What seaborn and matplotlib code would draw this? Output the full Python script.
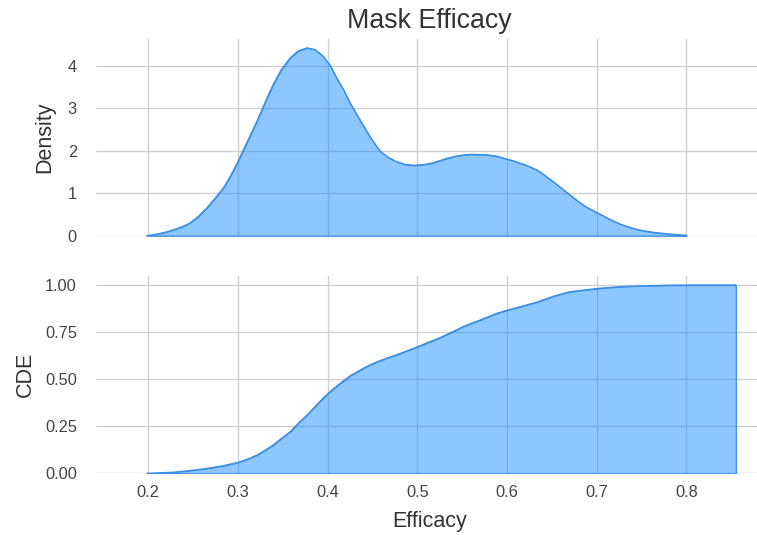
import matplotlib
matplotlib.use("Agg")
import matplotlib.pyplot as plt
import seaborn as sns
import pandas as pd

# Density curve (Efficacy, density)
dens_x = [0.198, 0.210, 0.220, 0.228, 0.2375, 0.2465, 0.256, 0.265, 0.274, 0.2836,
          0.292, 0.300, 0.310, 0.321, 0.330, 0.339, 0.348, 0.358, 0.367, 0.377,
          0.386, 0.395, 0.403, 0.410, 0.418, 0.425, 0.431, 0.438, 0.448, 0.458,
          0.467, 0.477, 0.486, 0.4954, 0.505, 0.514, 0.524, 0.533, 0.542, 0.551,
          0.560, 0.570, 0.579, 0.588, 0.597, 0.607, 0.620, 0.633, 0.642, 0.6515,
          0.661, 0.670, 0.679, 0.6887, 0.7017, 0.714, 0.726, 0.735, 0.7445, 0.754,
          0.763, 0.772, 0.7816, 0.790, 0.800]
dens_y = [0.00, 0.04, 0.09, 0.14, 0.21, 0.30, 0.46, 0.65, 0.87, 1.12,
          1.42, 1.75, 2.20, 2.69, 3.13, 3.55, 3.90, 4.18, 4.35, 4.42,
          4.38, 4.22, 4.00, 3.71, 3.42, 3.12, 2.90, 2.65, 2.30, 2.00,
          1.85, 1.74, 1.68, 1.66, 1.67, 1.70, 1.76, 1.82, 1.87, 1.90,
          1.915, 1.91, 1.90, 1.875, 1.82, 1.76, 1.67, 1.55, 1.42, 1.27,
          1.11, 0.96, 0.81, 0.67, 0.53, 0.39, 0.275, 0.21, 0.15, 0.11,
          0.08, 0.06, 0.04, 0.025, 0.01]

# Cumulative curve (Efficacy, CDE)
cdf_x = [0.198, 0.210, 0.228, 0.245, 0.265, 0.283, 0.300, 0.311, 0.321, 0.330,
         0.339, 0.348, 0.358, 0.367, 0.377, 0.386, 0.395, 0.404, 0.414, 0.425,
         0.4397, 0.449, 0.458, 0.467, 0.477, 0.488, 0.500, 0.514, 0.524, 0.533,
         0.542, 0.551, 0.560, 0.570, 0.579, 0.588, 0.601, 0.614, 0.6255, 0.633,
         0.642, 0.6515, 0.661, 0.670, 0.686, 0.7017, 0.714, 0.726, 0.745, 0.763,
         0.780, 0.800, 0.855]
cdf_y = [0.000, 0.002, 0.006, 0.014, 0.026, 0.040, 0.058, 0.076, 0.097, 0.122,
         0.150, 0.184, 0.220, 0.265, 0.310, 0.355, 0.400, 0.440, 0.478, 0.518,
         0.558, 0.580, 0.598, 0.614, 0.630, 0.650, 0.672, 0.699, 0.718, 0.738,
         0.758, 0.779, 0.797, 0.814, 0.832, 0.849, 0.868, 0.884, 0.899, 0.909,
         0.924, 0.940, 0.953, 0.964, 0.974, 0.982, 0.987, 0.991, 0.995, 0.997,
         0.999, 1.000, 1.000]

x_ticks = [0.2, 0.3, 0.4, 0.5, 0.6, 0.7, 0.8]
dens_ticks = [0, 1, 2, 3, 4]
cdf_ticks = [0.00, 0.25, 0.50, 0.75, 1.00]

title = "Mask Efficacy"
xlabel = "Efficacy"
ylabel_top = "Density"
ylabel_bottom = "CDE"

sns.set_theme(style="whitegrid")
plt.rcParams["font.family"] = ["Liberation Sans", "DejaVu Sans"]

dens_df = pd.DataFrame({"Efficacy": dens_x, "Density": dens_y})
cdf_df = pd.DataFrame({"Efficacy": cdf_x, "CDE": cdf_y})

fill_color = matplotlib.colors.to_rgba("dodgerblue", 0.5)
line_color = "#3b8fe4"
fig = plt.figure(figsize=(7.57, 5.35), dpi=100)
ax1 = fig.add_axes([0.1264, 0.5594, 0.8736, 0.3686])
ax2 = fig.add_axes([0.1264, 0.1153, 0.8736, 0.3696], sharex=ax1)

ax1.fill_between(dens_df["Efficacy"], 0, dens_df["Density"],
                 facecolor=fill_color, edgecolor=line_color, linewidth=0.9)
sns.lineplot(data=dens_df, x="Efficacy", y="Density", ax=ax1, color=line_color, linewidth=0.9)

ax2.fill_between(cdf_df["Efficacy"], 0, cdf_df["CDE"],
                 facecolor=fill_color, edgecolor=line_color, linewidth=0.9)
sns.lineplot(data=cdf_df, x="Efficacy", y="CDE", ax=ax2, color=line_color, linewidth=0.9)

ax1.set_xlim(0.1414, 0.8786)
ax1.set_ylim(0, 4.64)
ax2.set_ylim(0, 1.05)
ax1.set_xticks(x_ticks)
ax1.set_yticks(dens_ticks)
ax2.set_yticks(cdf_ticks)
ax2.set_yticklabels([f"{v:.2f}" for v in cdf_ticks])
ax2.set_xticklabels([f"{v:.1f}" for v in x_ticks])
ax1.tick_params(axis="x", labelbottom=False)

for ax in (ax1, ax2):
    for s in ax.spines.values():
        s.set_visible(False)
    ax.grid(True, color="#d0d0d0", linewidth=1.0)
    ax.set_axisbelow(True)
    ax.tick_params(axis="y", pad=13.5, labelsize=11.8, labelcolor="#444444", length=0)
    ax.tick_params(axis="x", pad=8.4, labelsize=11.8, labelcolor="#444444", length=0)

ax1.set_xlabel("")
ax1.set_ylabel(ylabel_top, fontsize=15.5, color="#333333")
ax2.set_ylabel(ylabel_bottom, fontsize=15.5, color="#333333")
ax2.set_xlabel(xlabel, fontsize=15.5, color="#333333")
ax1.yaxis.set_label_coords(-0.0615, 0.5)
ax2.yaxis.set_label_coords(-0.090, 0.5)
ax2.xaxis.set_label_coords(0.5055, -0.19)

fig.text(429 / 757, 1 - 28 / 535, title, ha="center", va="baseline",
         fontsize=19.3, color="#333333")

fig.savefig("out.png", dpi=100)
